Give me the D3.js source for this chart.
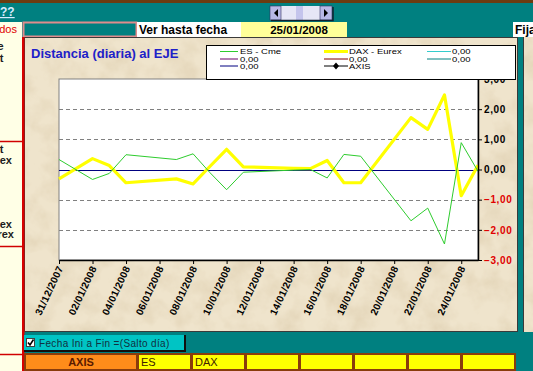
<!DOCTYPE html>
<html>
<head>
<meta charset="utf-8">
<script src="https://cdn.jsdelivr.net/npm/d3@7"></script>
<style>
body { margin: 0; background: #008080; }
svg { display: block; font-family: "Liberation Sans", Arial, sans-serif; }
</style>
</head>
<body>
<svg id="sheet" width="533" height="371"></svg>
<script>
// data
var dates = ["31/12/2007","02/01/2008","03/01/2008","04/01/2008","07/01/2008","08/01/2008","09/01/2008",
    "10/01/2008","11/01/2008","14/01/2008","15/01/2008","16/01/2008","17/01/2008","18/01/2008",
    "21/01/2008","22/01/2008","23/01/2008","24/01/2008","25/01/2008"];
var esCme =    [0.33,-0.33,-0.13, 0.49, 0.33, 0.52,-0.10,-0.67,-0.09,-0.02, 0.00,-0.28, 0.50, 0.44,-1.70,-1.28,-2.47, 0.89,-0.06];
var daxEurex = [-0.31, 0.36, 0.13,-0.44,-0.31,-0.48, 0.10, 0.67, 0.09, 0.04, 0.03, 0.30,-0.44,-0.44, 1.72, 1.33, 2.47,-0.87, 0.14];
var xTickLabels = ["31/12/2007","02/01/2008","04/01/2008","06/01/2008","08/01/2008","10/01/2008","12/01/2008",
    "14/01/2008","16/01/2008","18/01/2008","20/01/2008","22/01/2008","24/01/2008"];
var yTicks = [-3,-2,-1,0,1,2,3];
var gridValues = [-2,-1,1,2];
var legendLabels = ["ES - Cme","DAX - Eurex","0,00","0,00","0,00","0,00","0,00","AXIS"];
var legendColors = ["#2ecc2e","#ffff00","#33cccc","#660066","#800000","#008080","#000080","#000000"];
var bottomCells = ["AXIS","ES","DAX","","","","",""];
var sideTexts = ["e","t","t","ex","ex","rex"];

var parseDate = d3.timeParse("%d/%m/%Y");
var svg = d3.select("#sheet");

// parchment texture
var defs = svg.append("defs");
var f = defs.append("filter").attr("id", "paper").attr("x", 0).attr("y", 0).attr("width", 1).attr("height", 1);
f.append("feTurbulence").attr("type", "fractalNoise").attr("baseFrequency", 0.04).attr("numOctaves", 4).attr("seed", 7);
f.append("feColorMatrix").attr("type", "matrix")
    .attr("values", "0 0 0 0 0.60  0 0 0 0 0.47  0 0 0 0 0.28  0.7 0 0 0 -0.28");
f.append("feComposite").attr("in2", "SourceGraphic").attr("operator", "in");

function paper(x, y, w, h) {
    svg.append("rect").attr("x", x).attr("y", y).attr("width", w).attr("height", h).attr("fill", "#efe4cc");
    svg.append("rect").attr("x", x).attr("y", y).attr("width", w).attr("height", h)
        .attr("fill", "#fff").attr("filter", "url(#paper)");
}

// top strip
svg.append("rect").attr("x", 0).attr("y", 0).attr("width", 533).attr("height", 3).attr("fill", "#6b3c10");
svg.append("text").attr("x", 0).attr("y", 16).attr("font-size", 12).attr("font-weight", "bold")
    .attr("fill", "#d8ecff").attr("text-decoration", "underline").text("??");

// scrollbar
var sb = svg.append("g");
sb.append("rect").attr("x", 270).attr("y", 6).attr("width", 62).attr("height", 14).attr("fill", "#c4c4ec");
sb.append("rect").attr("x", 281).attr("y", 6).attr("width", 15).attr("height", 14).attr("fill", "#e6e6f6");
sb.append("rect").attr("x", 303).attr("y", 6).attr("width", 17).attr("height", 14).attr("fill", "#e6e6f6");
[[270, 281], [320, 332]].forEach(function(b) {
    sb.append("rect").attr("x", b[0]).attr("y", 6).attr("width", b[1] - b[0]).attr("height", 14)
        .attr("fill", "#b8b8e6").attr("stroke", "#303060").attr("stroke-width", 0.6);
});
sb.append("path").attr("d", "M278,9 L274,13 L278,17 Z").attr("fill", "#000");
sb.append("path").attr("d", "M324,9 L328,13 L324,17 Z").attr("fill", "#000");
sb.append("path").attr("d", "M271,20.5 H333 V7").attr("fill", "none").attr("stroke", "#102030").attr("stroke-width", 1.5);

// second row of cells
svg.append("rect").attr("x", 0).attr("y", 22).attr("width", 22).attr("height", 15).attr("fill", "#ffffe6");
svg.append("text").attr("x", 17).attr("y", 33).attr("text-anchor", "end").attr("font-size", 11)
    .attr("fill", "#e00000").text("dos");
svg.append("rect").attr("x", 23.5).attr("y", 22.5).attr("width", 113).attr("height", 14)
    .attr("fill", "#008080").attr("stroke", "#e08c8c").attr("stroke-width", 2);
svg.append("rect").attr("x", 137).attr("y", 22).attr("width", 104).attr("height", 15).attr("fill", "#fff");
svg.append("text").attr("x", 139).attr("y", 33.5).attr("font-size", 12).attr("font-weight", "bold").text("Ver hasta fecha");
svg.append("rect").attr("x", 241).attr("y", 22).attr("width", 106).attr("height", 15).attr("fill", "#ffff99");
svg.append("text").attr("x", 299).attr("y", 33.5).attr("text-anchor", "middle").attr("font-size", 11.5)
    .attr("font-weight", "bold").text(dates[dates.length - 1]);
svg.append("rect").attr("x", 513).attr("y", 22).attr("width", 20).attr("height", 15).attr("fill", "#fff");
svg.append("text").attr("x", 515).attr("y", 33.5).attr("font-size", 12).attr("font-weight", "bold").text("Fija");

// left column
svg.append("rect").attr("x", 0).attr("y", 37).attr("width", 22).attr("height", 334).attr("fill", "#ffffe6");
var sideX = [3.5, 3.5, 3.5, 12, 12, 14];
var sideY = [50, 62, 153, 164, 228, 238];
svg.selectAll(".side").data(sideTexts).enter().append("text")
    .attr("x", function(d, i) { return sideX[i]; })
    .attr("y", function(d, i) { return sideY[i]; })
    .attr("text-anchor", "end").attr("font-size", 11).attr("font-weight", "bold").attr("fill", "#202020")
    .text(function(d) { return d; });
[141.5, 246.5, 354.5].forEach(function(y) {
    svg.append("line").attr("x1", 0).attr("x2", 23).attr("y1", y).attr("y2", y).attr("stroke", "#d00000").attr("stroke-width", 1.5);
});

// chart area
paper(24, 37, 494, 295);
svg.append("rect").attr("x", 24.5).attr("y", 37.5).attr("width", 493).attr("height", 294)
    .attr("fill", "none").attr("stroke", "#3a3a3a");
svg.append("rect").attr("x", 518).attr("y", 37).attr("width", 5).attr("height", 295).attr("fill", "#008080");
paper(523, 37, 10, 295);
svg.append("line").attr("x1", 523.5).attr("x2", 523.5).attr("y1", 37).attr("y2", 332).attr("stroke", "#3a3a3a");
svg.append("rect").attr("x", 22).attr("y", 37).attr("width", 2.5).attr("height", 334).attr("fill", "#d80000");

svg.append("text").attr("x", 31).attr("y", 58).attr("font-size", 13).attr("font-weight", "bold")
    .attr("fill", "#2020c8").text("Distancia (diaria) al EJE");

// plot
var plot = {left: 59, right: 478, top: 79, bottom: 260};
var x = d3.scaleTime()
    .domain(d3.extent(dates, parseDate))
    .range([plot.left, plot.right]);
var y = d3.scaleLinear().domain([-3, 3]).range([plot.bottom, plot.top]);

svg.append("rect").attr("x", plot.left).attr("y", plot.top)
    .attr("width", plot.right - plot.left).attr("height", plot.bottom - plot.top)
    .attr("fill", "#fff").attr("stroke", "#808080");

svg.selectAll(".grid").data(gridValues).enter().append("line")
    .attr("x1", plot.left).attr("x2", plot.right)
    .attr("y1", function(d) { return Math.round(y(d)) + 0.5; })
    .attr("y2", function(d) { return Math.round(y(d)) + 0.5; })
    .attr("stroke", "#808080").attr("stroke-dasharray", "4,3");

svg.append("line").attr("x1", plot.left).attr("x2", plot.right)
    .attr("y1", Math.round(y(0)) + 0.5).attr("y2", Math.round(y(0)) + 0.5)
    .attr("stroke", "#000080").attr("stroke-width", 1.2);

var line = d3.line()
    .x(function(d, i) { return x(parseDate(dates[i])); })
    .y(function(d) { return y(d); });

svg.append("path").datum(daxEurex).attr("d", line).attr("fill", "none")
    .attr("stroke", "#ffff00").attr("stroke-width", 3.2).attr("stroke-linejoin", "round");
svg.append("path").datum(esCme).attr("d", line).attr("fill", "none")
    .attr("stroke", "#2ecc2e").attr("stroke-width", 1);

// x axis
var xAxis = svg.append("g").attr("transform", "translate(0," + plot.bottom + ")")
    .call(d3.axisBottom(x).tickValues(xTickLabels.map(parseDate)).tickSize(4).tickSizeOuter(0)
        .tickFormat(d3.timeFormat("%d/%m/%Y")));
xAxis.select(".domain").attr("stroke", "#000").attr("stroke-width", 1.5);
xAxis.selectAll(".tick line").attr("stroke", "#000");
xAxis.selectAll("text")
    .attr("font-size", 10).attr("font-weight", "bold").attr("fill", "#000")
    .attr("letter-spacing", 0.3).attr("font-family", "Liberation Sans, Arial, sans-serif")
    .attr("text-anchor", "end").attr("dy", 0)
    .attr("transform", "translate(4,8) rotate(-65)").attr("y", 0).attr("x", 0);

// y axis (right)
var yAxis = svg.append("g").attr("transform", "translate(" + plot.right + ",0)")
    .call(d3.axisRight(y).tickValues(yTicks).tickSize(4).tickSizeOuter(0)
        .tickFormat(function(d) { return d3.format(".2f")(d).replace(".", ","); }));
yAxis.select(".domain").attr("stroke", "#000").attr("stroke-width", 1.5);
yAxis.selectAll(".tick line").attr("stroke", "#000");
yAxis.selectAll("text")
    .attr("font-size", 10).attr("font-weight", "bold").attr("letter-spacing", 0.6)
    .attr("font-family", "Liberation Sans, Arial, sans-serif")
    .attr("x", 6)
    .attr("fill", function(d) { return d < 0 ? "#e00000" : "#000"; });

// legend
svg.append("rect").attr("x", 206.5).attr("y", 45.5).attr("width", 309).attr("height", 34)
    .attr("fill", "#fff").attr("stroke", "#000");
var colX = [220, 324, 427];
var rowY = [54, 61.5, 68.5];
var lg = svg.selectAll(".lg").data(legendLabels).enter().append("g")
    .attr("transform", function(d, i) {
        return "translate(" + colX[i % 3] + "," + rowY[Math.floor(i / 3)] + ")";
    });
lg.append("line").attr("x1", 0).attr("x2", function(d, i) { return i % 3 == 0 ? 18 : 24; })
    .attr("y1", -2.5).attr("y2", -2.5)
    .attr("stroke", function(d, i) { return legendColors[i]; })
    .attr("stroke-width", function(d, i) { return i == 1 ? 3 : 1; });
lg.filter(function(d) { return d == "AXIS"; }).append("path")
    .attr("d", "M12,-6 L15,-2.5 L12,1 L9,-2.5 Z").attr("fill", "#000");
lg.append("text")
    .attr("x", function(d, i) { return i % 3 == 0 ? 20 : 25; })
    .attr("transform", "scale(1,0.78)")
    .attr("y", 0)
    .attr("font-size", 9.5).attr("fill", "#000")
    .text(function(d) { return d; });

// checkbox
svg.append("rect").attr("x", 24).attr("y", 335).attr("width", 162).attr("height", 17).attr("fill", "#101010");
svg.append("rect").attr("x", 24).attr("y", 335).attr("width", 160).attr("height", 15).attr("fill", "#00c4c4");
svg.append("rect").attr("x", 26.5).attr("y", 338.5).attr("width", 8).attr("height", 8).attr("fill", "#fff").attr("stroke", "#404040");
svg.append("path").attr("d", "M28,342.5 L30,345 L33.5,339.5").attr("fill", "none").attr("stroke", "#000").attr("stroke-width", 1.6);
svg.append("text").attr("x", 39).attr("y", 347).attr("font-size", 10).attr("letter-spacing", 0.35)
    .attr("fill", "#103040").text("Fecha Ini a Fin =(Salto día)");

// bottom cells
svg.append("rect").attr("x", 24).attr("y", 353).attr("width", 492).attr("height", 18).attr("fill", "#8a3c0c");
var cellX = [26, 139, 193, 247, 301, 355, 409, 463];
var cellW = [110, 51, 51, 51, 51, 51, 51, 51];
var cells = svg.selectAll(".cell").data(bottomCells).enter().append("g");
cells.append("rect")
    .attr("x", function(d, i) { return cellX[i]; }).attr("y", 355)
    .attr("width", function(d, i) { return cellW[i]; }).attr("height", 14)
    .attr("fill", function(d, i) { return i == 0 ? "#ff8c1a" : "#ffff00"; });
cells.append("text")
    .attr("x", function(d, i) { return i == 0 ? cellX[i] + cellW[i] / 2 : cellX[i] + 2; })
    .attr("y", 366)
    .attr("text-anchor", function(d, i) { return i == 0 ? "middle" : "start"; })
    .attr("font-size", 11).attr("font-weight", function(d, i) { return i == 0 ? "bold" : "normal"; })
    .attr("fill", function(d, i) { return i == 0 ? "#5a1a00" : "#402000"; })
    .text(function(d) { return d; });
</script>
</body>
</html>
